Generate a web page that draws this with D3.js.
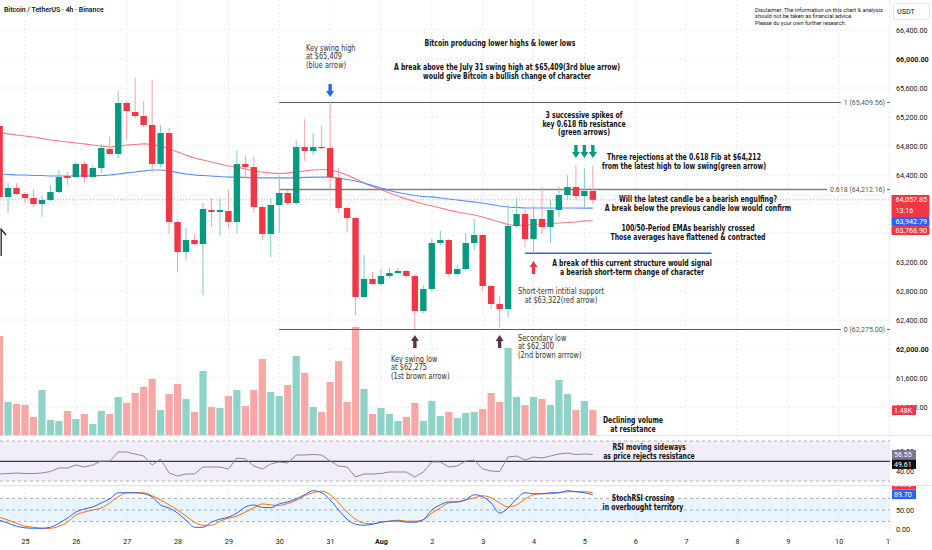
<!DOCTYPE html>
<html>
<head>
<meta charset="utf-8">
<script src="https://cdn.jsdelivr.net/npm/d3@7"></script>
<style>
  body { margin: 0; background: #fff; }
  svg { display: block; font-family: Roboto, "Liberation Sans", sans-serif; }
</style>
</head>
<body>
<script>
// BTC/USDT 4h candles, first bar 24 Jul 12:00, then every 4 hours
const opens  = [65076,64097,64221,64138,64083,64000,64055,64166,64386,64372,64552,64372,64497,64759,64690,65393,65269,65214,65090,64552,
                64979,63752,63338,63503,63448,63917,63890,63903,63752,64552,64510,63959,63586,63986,64152,64014,64786,64731,64786,64772,
                64359,63945,63807,62717,62966,62897,63007,63048,63076,63007,62524,62828,63462,63503,63034,63103,63462,63572,62869,62621,
                62552,63697,63862,63517,63793,63683,63917,64124,64234,64110,64179];
const highs  = [65131,64290,64290,64166,64193,64110,64262,64469,64441,64579,64593,64538,64828,64924,65559,65421,65738,65421,65710,65090,
                65048,63766,63669,63586,64014,64083,64083,64193,64745,64676,64648,63972,64083,64400,64193,64883,65172,64979,65076,65409.56,
                64497,63959,63821,63297,63062,63103,63117,63117,63090,63034,62883,63517,63628,63517,63159,63600,63793,63586,62883,62731,
                63986,64083,63945,63972,64234,64055,64234,64400,64538,64497,64524];
const lows   = [63738,63876,64124,64014,63959,63821,64041,64152,64262,64359,64290,64359,64428,64662,64634,64883,65186,65062,64428,64510,
                63600,63062,63228,63434,62745,63683,63559,63669,63600,64359,63876,63503,63269,63600,63986,63986,64593,64676,64759,64179,
                63876,63614,62469,62703,62883,62869,62979,63034,62993,62275,62496,62800,63434,62993,63007,63090,63366,62800,62552,62300,
                62441,63669,63407,63322,63586,63462,63821,64055,64055,63945,64000];
const closes = [64097,64221,64138,64083,64000,64055,64166,64372,64359,64552,64372,64497,64772,64690,65393,65283,65214,65090,64552,64979,
                63752,63338,63503,63448,63931,63890,63917,63752,64552,64510,63959,63586,63986,64152,64014,64786,64731,64786,64772,64372,
                63945,63807,62717,62966,62897,63007,63048,63076,63007,62524,62828,63462,63503,63034,63103,63462,63572,62869,62621,62552,
                63697,63862,63517,63793,63683,63917,64124,64234,64110,64179,64057.85];
const volumes = [5861,1954,1835,1776,1066,2664,888,829,1421,947,1243,651,1421,1243,2250,1894,2486,2842,3315,1480,
                 2427,3019,2131,1362,3789,1658,1598,2309,2664,1717,2664,4499,2546,2309,2960,4677,3670,1658,1362,3138,
                 4381,1954,6394,2723,1243,1598,1243,829,1066,1894,829,2013,1125,1362,1006,1302,1362,1539,2486,1954,
                 5150,2250,1776,2250,2131,1776,3256,2427,1480,2013,1480];
const ema50  = [64993,64966,64952,64938,64924,64903,64883,64869,64855,64841,64828,64814,64800,64786,64800,64814,64821,64828,64821,64800,
                64759,64717,64676,64634,64607,64579,64552,64524,64510,64483,64455,64441,64428,64421,64428,64441,64455,64469,64476,64469,
                64441,64400,64345,64290,64241,64200,64152,64110,64069,64034,64000,63972,63945,63917,63890,63869,63848,63821,63786,63752,
                63717,63703,63710,63717,63724,63731,63738,63745,63752,63766,63768.90];
const ema100 = [64414,64407,64400,64400,64393,64393,64386,64386,64386,64386,64386,64386,64393,64400,64414,64428,64441,64455,64469,64469,
                64455,64434,64414,64400,64393,64386,64379,64372,64372,64366,64359,64359,64359,64359,64359,64359,64366,64372,64372,64372,
                64359,64338,64317,64290,64255,64221,64186,64159,64138,64117,64103,64097,64083,64069,64055,64041,64028,64014,63993,63972,
                63959,63952,63945,63945,63945,63945,63945,63945,63945,63943,63942.79];
const rsi    = [37,37.5,38,37.5,37.5,38,39.5,43,43,46,44,46,50,50,59,59,57,55,46,52,
                38,35,37,37,44,44,44,42,53,52,45,42,47,49,48,56,56,56.5,56,50,
                45,44,34,37,37,37.5,39,39,39,34,39,49,49,44,45,50,51,42,40,39.5,
                54,55,51,54,53,55,57,58,56.5,57,56.55];
const stochK = [23.7,15.8,7.9,3.9,2.6,2.6,5.3,15.8,28.9,44.7,52.6,57.9,68.4,78.9,94.7,94.7,94.7,92.1,84.2,63,
                55,42.1,23.7,5.3,5.3,18.4,26.3,31.6,42.1,57.9,63,56.6,56,65.8,71,78.9,89.5,100,94.7,76.3,
                50,26.3,13.2,10.5,13.2,18.4,21,21.8,18.4,18.4,25,50,63.2,71,71,76.3,89.5,84.2,68.4,42.1,
                55.3,78.9,94.7,92.1,92.1,94.7,94.7,100,97.4,94.7,89.7];
const stochD = [31.6,23.7,15.8,7.9,5.3,2.6,2.6,7.9,18.4,36.8,44.7,50,55.3,68.4,84.2,94.7,94.7,94.7,86.8,76.3,
                63.2,50,34.2,18.4,10.5,10.5,21,28.9,34.2,44.7,55.3,65.8,63.2,62,67,75,86.8,94.7,98.7,89.5,
                68.4,44.7,26.3,15.8,14.5,18.4,21,23.7,21,21,25,42.1,55.3,68.4,71,76.3,81.6,86.8,81.6,68.4,
                57.9,63.2,78.9,89.5,92.1,92.1,94.7,97.4,97.4,97.4,94.7];
const rsiLevel = 49.61;

// 64,000 and 63,600 sit under the price tags in the original, so they are not listed
const priceTicks = [61200,61600,62000,62400,62800,63200,64400,64800,65200,65600,66000,66400];
const gridPrices = [61200,61600,62000,62400,62800,63200,63600,64000,64400,64800,65200,65600,66000,66400];
const boldPrices = [62000, 66000];
const dayDates  = ['2024-07-25','2024-07-26','2024-07-27','2024-07-28','2024-07-29','2024-07-30','2024-07-31','2024-08-01','2024-08-02',
                   '2024-08-03','2024-08-04','2024-08-05','2024-08-06','2024-08-07','2024-08-08','2024-08-09','2024-08-10','2024-08-11'];
const dayLabels = ['25','26','27','28','29','30','31','Aug','2','3','4','5','6','7','8','9','10','11'];

const fibHigh = 65409.56, fibLow = 62275.00;
const fibLevels = [1, 0.618, 0];
const supportPrice = 63322;

// ---------- layout ----------
const W = 932, H = 550, plotW = 890;
const UP = '#089981', DOWN = '#f23645';
const NOTE_FONT = '"Liberation Sans Narrow", "DejaVu Sans Condensed", "Roboto Condensed", Roboto, sans-serif';

const t0 = Date.UTC(2024, 6, 24, 12);
const times = opens.map((d, i) => new Date(t0 + i * 4 * 3600e3));
const utc = s => new Date(s + 'Z');

const x = d3.scaleUtc().domain([utc('2024-07-25T00:00'), utc('2024-08-11T00:00')]).range([25, 889.5]);
const y = d3.scaleLinear().domain([61200, 66400]).range([407, 30]);
const yVol = d3.scaleLinear().domain([0, 1480]).range([435, 410]);
const yRsi = d3.scaleLinear().domain([30, 70]).range([481, 441]);
const ySto = d3.scaleLinear().domain([0, 100]).range([529.3, 490.7]);

const svg = d3.select('body').append('svg').attr('width', W).attr('height', H);
svg.append('rect').attr('width', W).attr('height', H).attr('fill', '#fff');

// pane bands
svg.append('rect').attr('x', 0).attr('width', plotW).attr('y', yRsi(70)).attr('height', yRsi(30) - yRsi(70))
  .attr('fill', 'rgba(126,87,194,0.1)');
svg.append('rect').attr('x', 0).attr('width', plotW).attr('y', ySto(80)).attr('height', ySto(20) - ySto(80))
  .attr('fill', 'rgba(33,150,243,0.1)');

// grid
const grid = svg.append('g').attr('stroke', '#e2e4ea').attr('stroke-dasharray', '1.5,2.5');
grid.selectAll('line.h').data(gridPrices).join('line').attr('class', 'h')
  .attr('x1', 0).attr('x2', plotW).attr('y1', d => y(d)).attr('y2', d => y(d));
grid.selectAll('line.v').data(dayDates).join('line').attr('class', 'v')
  .attr('x1', d => x(utc(d))).attr('x2', d => x(utc(d))).attr('y1', 0).attr('y2', 532);

// band borders
const dash = svg.append('g').attr('stroke', '#9a9ca5').attr('stroke-dasharray', '3,3').attr('stroke-width', 0.8);
[70, 30].forEach(v => dash.append('line').attr('x1', 0).attr('x2', plotW).attr('y1', yRsi(v)).attr('y2', yRsi(v)));
[80, 50, 20].forEach(v => dash.append('line').attr('x1', 0).attr('x2', plotW).attr('y1', ySto(v)).attr('y2', ySto(v)));

// pane separators
[435.5, 485.5].forEach(v => svg.append('line').attr('x1', 0).attr('x2', W).attr('y1', v).attr('y2', v)
  .attr('stroke', '#e0e3eb'));

// volume
svg.append('g').selectAll('rect').data(volumes).join('rect')
  .attr('x', (d, i) => x(times[i]) - 3.6).attr('width', 7.2)
  .attr('y', d => yVol(d)).attr('height', d => yVol(0) - yVol(d))
  .attr('fill', (d, i) => closes[i] >= opens[i] ? '#8fd3c8' : '#f7a7a5');

// EMAs
const emaLine = d3.line().x((d, i) => x(times[i])).y(d => y(d)).curve(d3.curveMonotoneX);
svg.append('path').attr('d', emaLine(ema50)).attr('fill', 'none').attr('stroke', '#f47f84').attr('stroke-width', 1.2);
svg.append('path').attr('d', emaLine(ema100)).attr('fill', 'none').attr('stroke', '#5b8ff9').attr('stroke-width', 1.2);

// last price line
const last = closes[closes.length - 1];
svg.append('line').attr('x1', 0).attr('x2', plotW).attr('y1', y(last)).attr('y2', y(last))
  .attr('stroke', '#f23645').attr('stroke-opacity', 0.55).attr('stroke-dasharray', '1,2');

// fib levels
const fibG = svg.append('g').attr('font-size', 7).attr('fill', '#555');
fibLevels.forEach(lv => {
  const p = fibLow + lv * (fibHigh - fibLow);
  const yy = Math.round(y(p)) + 0.5;
  const t = fibG.append('text').attr('x', 885).attr('y', yy + 2.5).attr('text-anchor', 'end')
    .text(`${lv} (${d3.format(',.2f')(p)})`);
  const w = t.node().getComputedTextLength();
  fibG.append('line').attr('x1', x(utc('2024-07-30T00:00'))).attr('x2', 885 - w - 3).attr('y1', yy).attr('y2', yy)
    .attr('stroke', lv === 0.618 ? '#808080' : '#5a5a5a').attr('stroke-width', lv === 0.618 ? 1.6 : 1.2);
  fibG.append('line').attr('x1', 887).attr('x2', 890).attr('y1', yy).attr('y2', yy).attr('stroke', '#777');
});

// support line
svg.append('line').attr('x1', x(utc('2024-08-03T20:00'))).attr('x2', x(utc('2024-08-07T12:00')))
  .attr('y1', y(supportPrice)).attr('y2', y(supportPrice)).attr('stroke', '#2962ff').attr('stroke-width', 1.5);

// candles
const cg = svg.append('g').selectAll('g').data(opens).join('g');
cg.append('line')
  .attr('x1', (d, i) => x(times[i])).attr('x2', (d, i) => x(times[i]))
  .attr('y1', (d, i) => y(highs[i])).attr('y2', (d, i) => y(lows[i]))
  .attr('stroke', (d, i) => closes[i] >= opens[i] ? '#7dcdbf' : '#f6a0a6').attr('stroke-width', 1);
cg.append('rect')
  .attr('x', (d, i) => x(times[i]) - 3.2).attr('width', 6.4)
  .attr('y', (d, i) => y(Math.max(opens[i], closes[i])))
  .attr('height', (d, i) => Math.max(1.2, Math.abs(y(opens[i]) - y(closes[i]))))
  .attr('fill', (d, i) => closes[i] >= opens[i] ? UP : DOWN);

// RSI pane
svg.append('line').attr('x1', 0).attr('x2', plotW).attr('y1', yRsi(rsiLevel)).attr('y2', yRsi(rsiLevel))
  .attr('stroke', '#3a3a3a').attr('stroke-width', 1.2);
svg.append('path').attr('d', d3.line().x((d, i) => x(times[i])).y(d => yRsi(d))(rsi))
  .attr('fill', 'none').attr('stroke', '#8e84a6').attr('stroke-width', 1);

// StochRSI pane
const stoLine = d3.line().x((d, i) => x(times[i])).y(d => ySto(d)).curve(d3.curveMonotoneX);
svg.append('path').attr('d', stoLine(stochD)).attr('fill', 'none').attr('stroke', '#ff6d00').attr('stroke-width', 1);
svg.append('path').attr('d', stoLine(stochK)).attr('fill', 'none').attr('stroke', '#2962ff').attr('stroke-width', 1);

// arrows
function arrow(t, p, dir, color) {
  const tx = x(utc(t)), ty = y(p), s = dir === 'down' ? -1 : 1;
  const pts = [[tx - 1.7, ty + s * 13], [tx + 1.7, ty + s * 13], [tx + 1.7, ty + s * 6], [tx + 4, ty + s * 6],
               [tx, ty], [tx - 4, ty + s * 6], [tx - 1.7, ty + s * 6]];
  svg.append('path').attr('d', 'M' + pts.map(q => q.join(',')).join('L') + 'Z').attr('fill', color);
}
arrow('2024-07-31T00:00', 65476, 'down', '#2962ff');
arrow('2024-08-04T20:00', 64634, 'down', '#089981');
arrow('2024-08-05T00:00', 64634, 'down', '#089981');
arrow('2024-08-05T04:00', 64634, 'down', '#089981');
arrow('2024-08-04T00:00', 63214, 'up', '#f23645');
arrow('2024-08-01T16:00', 62193, 'up', '#5e3442');
arrow('2024-08-03T08:00', 62193, 'up', '#5e3442');
svg.append('path').attr('d', 'M1.2,256V229.5M0.5,228.5L6,235').attr('stroke', '#222').attr('stroke-width', 1.3).attr('fill', 'none');

// notes
const boldNotes = [
  { x: 500, y: 46,  lh: 9,   lines: ['Bitcoin producing lower highs & lower lows'] },
  { x: 507, y: 70,  lh: 9,   lines: ['A break above the July 31 swing high at $65,409(3rd blue arrow)', 'would give Bitcoin a bullish change of character'] },
  { x: 584, y: 118, lh: 8.7, lines: ['3 successive spikes of', 'key 0.618 fib resistance', '(green arrows)'] },
  { x: 684, y: 160, lh: 9,   lines: ['Three rejections at the 0.618 Fib at $64,212', 'from the latest high to low swing(green arrow)'] },
  { x: 698, y: 202, lh: 9,   lines: ['Will the latest candle be a bearish engulfing?', 'A break below the previous candle low would confirm'] },
  { x: 688, y: 231, lh: 9,   lines: ['100/50-Period EMAs bearishly crossed', 'Those averages have flattened & contracted'] },
  { x: 632, y: 266, lh: 9,   lines: ['A break of this current structure would signal', 'a bearish short-term change of character'] },
  { x: 633, y: 423, lh: 9,   lines: ['Declining volume', 'at resistance'] },
  { x: 649, y: 450, lh: 8.6, lines: ['RSI moving sideways', 'as price rejects resistance'] },
  { x: 643, y: 501, lh: 9,   lines: ['StochRSI crossing', 'in overbought territory'] }
];
const plainNotes = [
  { x: 306, y: 51,    lh: 8.4, anchor: 'start', lines: ['Key swing high', 'at $65,409', '(blue arrow)'] },
  { x: 391, y: 361.5, lh: 8.8, anchor: 'start', lines: ['Key swing low', 'at $62,275', '(1st brown arrow)'] },
  { x: 518, y: 340.5, lh: 8.8, anchor: 'start', lines: ['Secondary low', 'at $62,300', '(2nd brown arrrow)'] },
  { x: 561, y: 294,   lh: 9,   lines: ['Short-term intitial support', 'at $63,322(red arrow)'] }
];
function drawNotes(list, weight, size, fill, refText, refWidth) {
  const g = svg.append('g').attr('font-family', NOTE_FONT).attr('font-size', size)
    .attr('font-weight', weight).attr('fill', fill);
  const probe = g.append('text').text(refText);
  const k = refWidth / probe.node().getComputedTextLength();
  probe.remove();
  list.forEach(n => n.lines.forEach((line, j) => {
    const t = g.append('text').attr('x', n.x).attr('y', n.y + j * n.lh)
      .attr('text-anchor', n.anchor || 'middle').text(line);
    t.attr('textLength', t.node().getComputedTextLength() * k).attr('lengthAdjust', 'spacingAndGlyphs');
  }));
}
drawNotes(boldNotes, 700, 9.3, '#111', 'Bitcoin producing lower highs & lower lows', 151);
drawNotes(plainNotes, 400, 9.2, '#333', 'Short-term intitial support', 86);

// header + disclaimer
svg.append('text').attr('x', 4).attr('y', 12).attr('font-size', 6.9).attr('font-weight', 600).attr('fill', '#131722')
  .text('Bitcoin / TetherUS · 4h · Binance');
const disc = svg.append('g').attr('font-size', 5.6).attr('fill', '#131722');
['Disclaimer: The information on this chart & analysis', 'should not be taken as financial advice.', 'Please do your own further research.']
  .forEach((s, j) => disc.append('text').attr('x', 755).attr('y', 11.5 + j * 6.6).text(s));

// price axis
const pa = svg.append('g').attr('transform', 'translate(896,0)')
  .call(d3.axisRight(y).tickValues(priceTicks).tickSize(0).tickPadding(0).tickFormat(d3.format(',.2f')));
pa.select('.domain').remove();
pa.selectAll('text').attr('font-size', 7.2).attr('fill', '#131722').attr('font-family', 'Roboto, sans-serif')
  .attr('font-weight', d => boldPrices.includes(d) ? 700 : 400);

const ra = svg.append('g').attr('transform', 'translate(896,0)')
  .call(d3.axisRight(yRsi).tickValues([40, 60]).tickSize(0).tickPadding(0).tickFormat(d3.format('.2f')));
const sa = svg.append('g').attr('transform', 'translate(896,0)')
  .call(d3.axisRight(ySto).tickValues([0, 50]).tickSize(0).tickPadding(0).tickFormat(d3.format('.2f')));
[ra, sa].forEach(a => {
  a.select('.domain').remove();
  a.selectAll('text').attr('font-size', 7.2).attr('fill', '#131722').attr('font-family', 'Roboto, sans-serif');
});

// time axis
svg.append('clipPath').attr('id', 'tclip').append('rect').attr('x', 0).attr('y', 532).attr('width', 891).attr('height', 18);
const ta = svg.append('g').attr('clip-path', 'url(#tclip)').append('g').attr('transform', 'translate(0,539)')
  .call(d3.axisBottom(x).tickValues(dayDates.map(utc)).tickSize(0).tickPadding(0)
    .tickFormat((d, i) => dayLabels[i]));
ta.select('.domain').remove();
ta.selectAll('text').attr('font-size', 7.2).attr('fill', '#131722').attr('font-family', 'Roboto, sans-serif')
  .attr('font-weight', (d, i) => dayLabels[i] === 'Aug' ? 700 : 400);

// USDT box
svg.append('rect').attr('x', 893.5).attr('y', 3.5).attr('width', 36).attr('height', 16).attr('rx', 2)
  .attr('fill', '#fff').attr('stroke', '#e0e3eb');
svg.append('text').attr('x', 897).attr('y', 14).attr('font-size', 7.2).attr('fill', '#131722').text('USDT');

// value tags on the axis
function tag(top, h, texts, bg) {
  const g = svg.append('g');
  g.append('rect').attr('x', 891.5).attr('y', top).attr('width', 38).attr('height', h).attr('rx', 1).attr('fill', bg);
  texts.forEach((s, j) => g.append('text').attr('x', 895.5).attr('y', top + 7 + j * 10.5)
    .attr('font-size', 7.2).attr('fill', '#fff').text(s));
  return top + h;
}
let b = tag(y(last) - 4.8, 22, [d3.format(',.2f')(last), '13:16'], '#f23645');
b = tag(Math.max(y(ema100[70]) - 4.5, b), 9, [d3.format(',.2f')(ema100[70])], '#2962ff');
tag(Math.max(y(ema50[70]) - 4.5, b), 9, [d3.format(',.2f')(ema50[70])], '#f23645');

function smallTag(top, text, bg, clipTop) {
  const g = svg.append('g');
  if (clipTop) {
    svg.append('clipPath').attr('id', 'sc').append('rect').attr('x', 880).attr('y', clipTop).attr('width', 60).attr('height', 60);
    g.attr('clip-path', 'url(#sc)');
  }
  g.append('rect').attr('x', 892).attr('y', top).attr('width', 24).attr('height', 9.5).attr('fill', bg);
  g.append('text').attr('x', 894).attr('y', top + 7.2).attr('font-size', 7).attr('fill', '#fff').text(text);
  return top + 9.5;
}
smallTag(yVol(volumes[70]) - 4.5, d3.format('.2f')(volumes[70] / 1000) + 'K', '#f23645');
let r = smallTag(yRsi(rsi[70]) - 4.5, d3.format('.2f')(rsi[70]), '#7f7492');
smallTag(Math.max(yRsi(rsiLevel) - 4.5, r), d3.format('.2f')(rsiLevel), '#111');
smallTag(ySto(stochK[70]) - 5, d3.format('.2f')(stochK[70]), '#2962ff');
smallTag(ySto(stochK[70]) - 14.5, d3.format('.2f')(stochD[70]), '#f23645', 486);
</script>
</body>
</html>
